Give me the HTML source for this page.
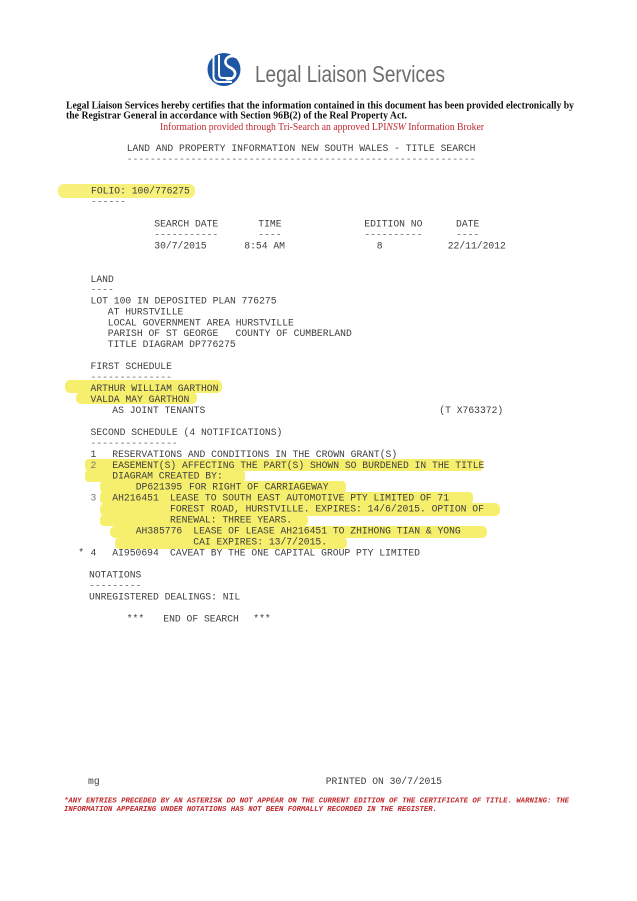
<!DOCTYPE html>
<html><head><meta charset="utf-8"><style>
html,body{margin:0;padding:0;background:#fff;}
svg{display:block;}
.m{font-family:"Liberation Mono",monospace;font-size:9.7px;fill:#3d3d3d;}
.d{font-family:"Liberation Mono",monospace;font-size:9.7px;fill:#6a6a6a;}
.hl{fill:#f6ef6e;}
</style></head><body>
<svg width="637" height="901" viewBox="0 0 637 901" xmlns="http://www.w3.org/2000/svg">
<rect width="637" height="901" fill="#fff"/>
<!-- logo -->
<circle cx="224" cy="69.5" r="16.5" fill="#1d57a3"/>
<path d="M213.5 55 V76 Q213.5 82 220 82 H232" stroke="#fff" stroke-width="2" fill="none"/>
<path d="M219 55 V74 Q219 78 223 78 H234" stroke="#fff" stroke-width="2" fill="none"/>
<path d="M238 58 Q232 54 227 58 Q223 63 229 67 Q236 70 235 75 Q233 80 226 79" stroke="#fff" stroke-width="2.6" fill="none"/>
<text x="255" y="82" font-family="Liberation Sans, sans-serif" font-size="23" fill="#6b6d70" textLength="190" lengthAdjust="spacingAndGlyphs">Legal Liaison Services</text>
<!-- certification -->
<text x="66" y="108.5" font-family="Liberation Serif, serif" font-weight="bold" font-size="10.5" fill="#111" textLength="508" lengthAdjust="spacingAndGlyphs">Legal Liaison Services hereby certifies that the information contained in this document has been provided electronically by</text>
<text x="66" y="118.5" font-family="Liberation Serif, serif" font-weight="bold" font-size="10.5" fill="#111" textLength="341" lengthAdjust="spacingAndGlyphs">the Registrar General in accordance with Section 96B(2) of the Real Property Act.</text>
<text x="160" y="130" font-family="Liberation Serif, serif" font-size="10.5" fill="#c0282d" textLength="324" lengthAdjust="spacingAndGlyphs">Information provided through Tri-Search an approved LPI<tspan font-style="italic">NSW</tspan> Information Broker</text>
<text class="m" x="126.7" y="151">LAND AND PROPERTY INFORMATION NEW SOUTH WALES - TITLE SEARCH</text>
<text class="d" x="126.7" y="162">------------------------------------------------------------</text>

<!-- highlights -->
<rect class="hl" x="58" y="184" width="137" height="14" rx="6" opacity="0.9"/>
<rect class="hl" x="65" y="380" width="157" height="13" rx="5"/>
<rect class="hl" x="76" y="392" width="121" height="12" rx="5"/>
<rect class="hl" x="85" y="459" width="398" height="12" rx="4"/>
<rect class="hl" x="85" y="470" width="160" height="12" rx="4"/>
<rect class="hl" x="100" y="481" width="246" height="12" rx="4"/>
<rect class="hl" x="100" y="492" width="373" height="12" rx="4"/>
<rect class="hl" x="100" y="503" width="400" height="13" rx="5"/>
<rect class="hl" x="100" y="515" width="208" height="11" rx="4"/>
<rect class="hl" x="110" y="526" width="377" height="12" rx="5"/>
<rect class="hl" x="115" y="537" width="232" height="12" rx="5"/>

<!-- folio -->
<text class="m" x="91" y="193.5">FOLIO: 100/776275</text>
<text class="d" x="91" y="204.5">------</text>
<text class="m" x="154.3" y="226.4">SEARCH DATE</text>
<text class="m" x="258.3" y="226.4">TIME</text>
<text class="m" x="364.3" y="226.4">EDITION NO</text>
<text class="m" x="456" y="226.4">DATE</text>
<text class="d" x="154.3" y="237.4">-----------</text>
<text class="d" x="258.3" y="237.4">----</text>
<text class="d" x="364.3" y="237.4">----------</text>
<text class="d" x="456" y="237.4">----</text>
<text class="m" x="154.3" y="248.4">30/7/2015</text>
<text class="m" x="244.3" y="248.4">8:54 AM</text>
<text class="m" x="376.7" y="248.4">8</text>
<text class="m" x="447.7" y="248.4">22/11/2012</text>

<!-- land -->
<text class="m" x="90.5" y="281.8">LAND</text>
<text class="d" x="90.5" y="292.7">----</text>
<text class="m" x="90.5" y="303.5">LOT 100 IN DEPOSITED PLAN 776275</text>
<text class="m" x="107.8" y="314.4">AT HURSTVILLE</text>
<text class="m" x="107.8" y="325.3">LOCAL GOVERNMENT AREA HURSTVILLE</text>
<text class="m" x="107.8" y="336.2">PARISH OF ST GEORGE</text>
<text class="m" x="235.5" y="336.2">COUNTY OF CUMBERLAND</text>
<text class="m" x="107.8" y="347.1">TITLE DIAGRAM DP776275</text>

<text class="m" x="90.5" y="369">FIRST SCHEDULE</text>
<text class="d" x="90.5" y="380">--------------</text>
<text class="m" x="90.5" y="391">ARTHUR WILLIAM GARTHON</text>
<text class="m" x="90.5" y="401.9">VALDA MAY GARTHON</text>
<text class="m" x="112.3" y="412.9">AS JOINT TENANTS</text>
<text class="m" x="439.3" y="412.9">(T X763372)</text>

<text class="m" x="90.5" y="434.8">SECOND SCHEDULE (4 NOTIFICATIONS)</text>
<text class="d" x="90.5" y="445.8">---------------</text>
<text class="m" x="90.5" y="456.8">1</text>
<text class="m" x="112.3" y="456.8">RESERVATIONS AND CONDITIONS IN THE CROWN GRANT(S)</text>
<text class="m" x="90.5" y="467.8" style="fill:#777">2</text>
<text class="m" x="112.3" y="467.8">EASEMENT(S) AFFECTING THE PART(S) SHOWN SO BURDENED IN THE TITLE</text>
<text class="m" x="112.3" y="478.7">DIAGRAM CREATED BY:</text>
<text class="m" x="135.7" y="489.7">DP621395</text>
<text class="m" x="189" y="489.7">FOR RIGHT OF CARRIAGEWAY</text>
<text class="m" x="90.5" y="500.7" style="fill:#777">3</text>
<text class="m" x="112.3" y="500.7">AH216451</text>
<text class="m" x="170" y="500.7">LEASE TO SOUTH EAST AUTOMOTIVE PTY LIMITED OF 71</text>
<text class="m" x="170" y="511.6">FOREST ROAD, HURSTVILLE. EXPIRES: 14/6/2015. OPTION OF</text>
<text class="m" x="170" y="522.6">RENEWAL: THREE YEARS.</text>
<text class="m" x="135.7" y="533.6">AH385776</text>
<text class="m" x="193.3" y="533.6">LEASE OF LEASE AH216451 TO ZHIHONG TIAN &amp; YONG</text>
<text class="m" x="193.3" y="544.5">CAI EXPIRES: 13/7/2015.</text>
<text class="m" x="78.3" y="555.5">*</text>
<text class="m" x="90.5" y="555.5">4</text>
<text class="m" x="112.3" y="555.5">AI950694</text>
<text class="m" x="170" y="555.5">CAVEAT BY THE ONE CAPITAL GROUP PTY LIMITED</text>

<text class="m" x="89" y="577.5">NOTATIONS</text>
<text class="d" x="89" y="588.4">---------</text>
<text class="m" x="89" y="599.4">UNREGISTERED DEALINGS: NIL</text>
<text class="m" x="126.7" y="621.3">***</text>
<text class="m" x="163.3" y="621.3">END OF SEARCH</text>
<text class="m" x="253.3" y="621.3">***</text>

<!-- footer -->
<text class="m" x="88" y="784">mg</text>
<text class="m" x="325.7" y="784">PRINTED ON 30/7/2015</text>
<text x="64" y="802.5" font-family="Liberation Mono, monospace" font-weight="bold" font-style="italic" font-size="7.2" fill="#c0282d" textLength="505" lengthAdjust="spacingAndGlyphs">*ANY ENTRIES PRECEDED BY AN ASTERISK DO NOT APPEAR ON THE CURRENT EDITION OF THE CERTIFICATE OF TITLE. WARNING: THE</text>
<text x="64" y="811" font-family="Liberation Mono, monospace" font-weight="bold" font-style="italic" font-size="7.2" fill="#c0282d" textLength="373" lengthAdjust="spacingAndGlyphs">INFORMATION APPEARING UNDER NOTATIONS HAS NOT BEEN FORMALLY RECORDED IN THE REGISTER.</text>
</svg>
</body></html>
